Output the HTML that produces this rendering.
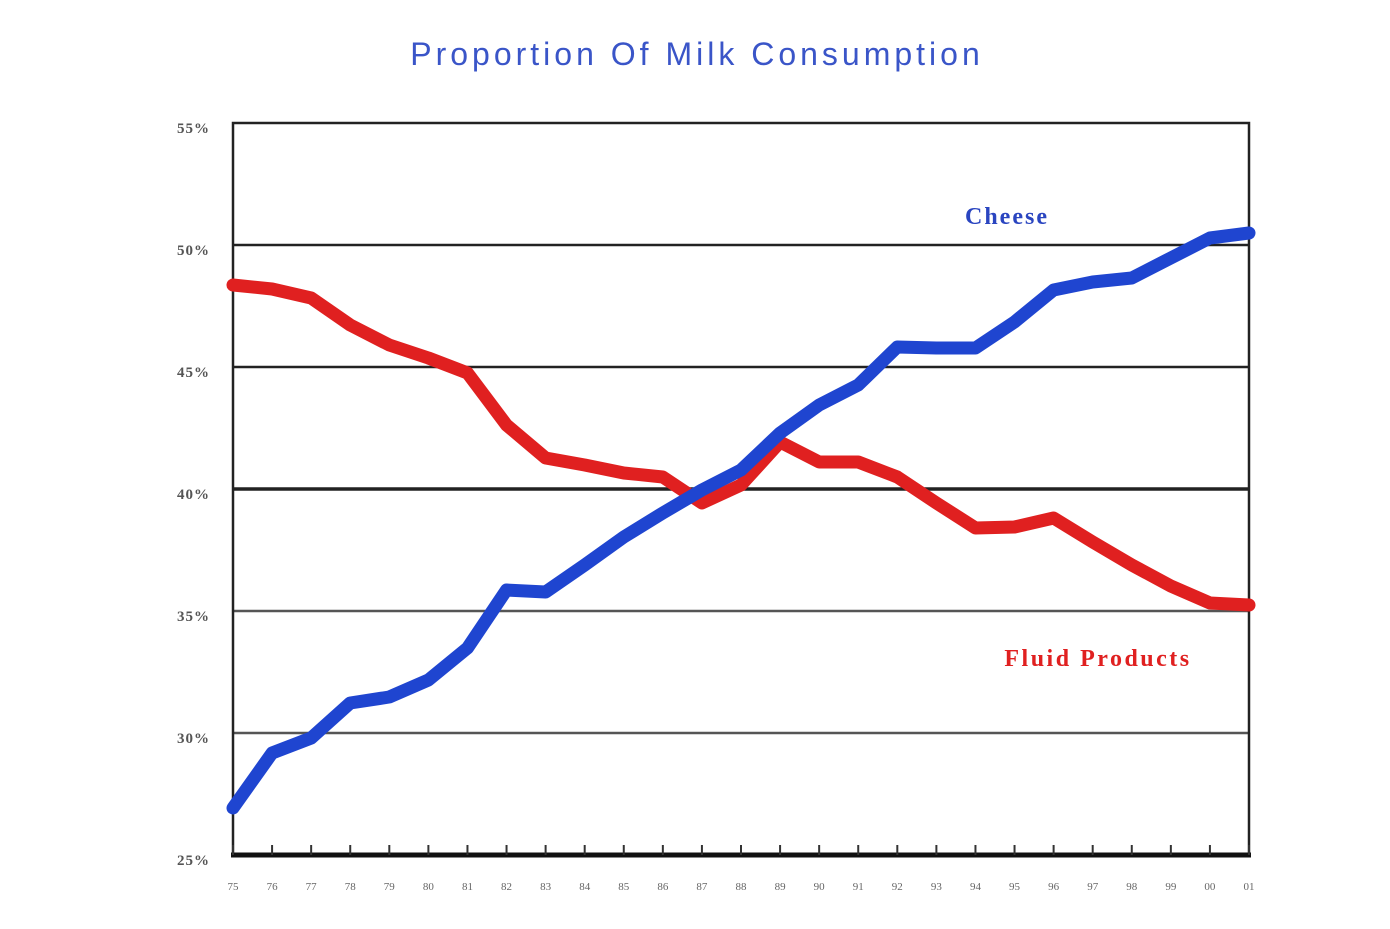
<!DOCTYPE html>
<html><head><meta charset="utf-8"><style>
html,body{margin:0;padding:0;background:#fff;}
svg{display:block;}
</style></head><body>
<svg width="1390" height="929" viewBox="0 0 1390 929" xmlns="http://www.w3.org/2000/svg">
<rect width="1390" height="929" fill="#fff"/>
<text x="697" y="65" text-anchor="middle" font-family="Liberation Sans, sans-serif" font-size="32" letter-spacing="4" fill="#3a55c8">Proportion Of Milk Consumption</text>
<g stroke="#222" stroke-width="2.5">
<line x1="233" y1="245" x2="1249" y2="245"/>
<line x1="233" y1="367" x2="1249" y2="367"/>
<line x1="233" y1="489" x2="1249" y2="489" stroke-width="3.5"/>
<line x1="233" y1="611" x2="1249" y2="611" stroke="#555"/>
<line x1="233" y1="733" x2="1249" y2="733" stroke="#555"/>
</g>
<rect x="233" y="123" width="1016" height="732" fill="none" stroke="#222" stroke-width="2.5"/>
<line x1="231" y1="855" x2="1251" y2="855" stroke="#111" stroke-width="5"/>
<g id="ticks" stroke="#333" stroke-width="2"></g>
<g font-family="Liberation Serif, serif" font-size="15" font-weight="bold" letter-spacing="1" fill="#555" text-anchor="end">
<text x="210" y="133">55%</text>
<text x="210" y="255">50%</text>
<text x="210" y="377">45%</text>
<text x="210" y="499">40%</text>
<text x="210" y="621">35%</text>
<text x="210" y="743">30%</text>
<text x="210" y="865">25%</text>
</g>
<g id="xl" font-family="Liberation Serif, serif" font-size="11" fill="#666" text-anchor="middle"></g>
<polyline fill="none" stroke="#e02020" stroke-width="13" stroke-linejoin="round" stroke-linecap="round" id="red"/>
<polyline fill="none" stroke="#1f45d0" stroke-width="13" stroke-linejoin="round" stroke-linecap="round" id="blue"/>
<text x="1007" y="224" text-anchor="middle" font-family="Liberation Serif, serif" font-size="24" font-weight="bold" letter-spacing="2" fill="#2a45c0">Cheese</text>
<text x="1098" y="666" text-anchor="middle" font-family="Liberation Serif, serif" font-size="24" font-weight="bold" letter-spacing="2.5" fill="#e02020">Fluid Products</text>
</svg>
<script>
var labs=["75","76","77","78","79","80","81","82","83","84","85","86","87","88","89","90","91","92","93","94","95","96","97","98","99","00","01"];
var blue=[808,753,738,703,697,680,648,590,592,565,537,513,490,470,433,405,385,347,348,348,322,290,282,278,258,238,233];
var red=[285,289,298,325,345,358,373,425,458,465,473,477,503,485,442,462,462,477,503,528,527,518,542,565,586,603,605];
var ns="http://www.w3.org/2000/svg",step=1016/26,t=document.getElementById("ticks"),xl=document.getElementById("xl");
var pb=[],pr=[];
for(var i=0;i<27;i++){var x=233+step*i;
pb.push(x.toFixed(1)+","+blue[i]);pr.push(x.toFixed(1)+","+red[i]);
var l=document.createElementNS(ns,"line");l.setAttribute("x1",x);l.setAttribute("x2",x);l.setAttribute("y1",845);l.setAttribute("y2",855);t.appendChild(l);
var tx=document.createElementNS(ns,"text");tx.setAttribute("x",x);tx.setAttribute("y",890);tx.textContent=labs[i];xl.appendChild(tx);}
document.getElementById("blue").setAttribute("points",pb.join(" "));
document.getElementById("red").setAttribute("points",pr.join(" "));
</script>
</body></html>
